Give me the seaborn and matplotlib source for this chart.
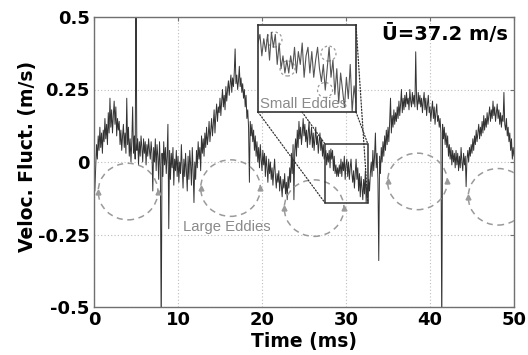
import numpy as np
import pandas as pd
import matplotlib
matplotlib.use("Agg")
import matplotlib.pyplot as plt
import seaborn as sns
from matplotlib.patches import Ellipse, Rectangle, ConnectionPatch

# ---------------- data ----------------
dt = 0.1  # ms between samples
veloc = [
    0.03, -0.10, -0.02, 0.06, 0.01, 0.09, 0.04, 0.12, 0.05, 0.10,   # 0 ms
    0.03, 0.11, 0.07, 0.15, 0.08, 0.13, 0.06, 0.17, 0.10, 0.22,     # 1
    0.12, 0.18, 0.10, 0.16, 0.21, 0.13, 0.19, 0.09, 0.15, 0.11,     # 2
    0.14, 0.06, 0.11, 0.04, 0.09, 0.13, 0.05, 0.10, 0.03, 0.22,     # 3
    0.06, 0.12, 0.02, 0.08, 0.00, 0.07, 0.19, 0.03, 0.09, 0.01,     # 4
    0.58, 0.04, 0.08, -0.01, 0.07, 0.02, 0.09, 0.05, 0.00, 0.08,    # 5
    0.03, 0.07, -0.01, 0.06, 0.02, 0.08, 0.04, 0.01, 0.07, 0.03,    # 6
    -0.10, 0.05, 0.00, 0.08, -0.03, 0.06, 0.02, -0.06, 0.07, -0.02, # 7
    -0.60, 0.03, -0.05, 0.07, -0.01, 0.05, -0.04, 0.02, 0.13, -0.23,# 8
    0.04, -0.06, 0.03, -0.02, 0.05, -0.08, 0.01, -0.03, 0.04, -0.05,# 9
    0.02, -0.07, 0.00, -0.04, 0.06, -0.02, -0.09, 0.01, -0.05, 0.03,# 10
    -0.03, -0.10, 0.02, -0.06, 0.04, -0.01, -0.08, 0.05, -0.03, -0.14, # 11
    0.00, -0.06, 0.04, -0.02, 0.07, 0.01, 0.05, -0.03, 0.09, 0.03,  # 12
    0.08, 0.02, 0.10, 0.05, 0.12, 0.06, 0.09, 0.14, 0.07, 0.11,     # 13
    0.15, 0.09, 0.13, 0.18, 0.10, 0.16, 0.20, 0.14, 0.19, 0.17,     # 14
    0.22, 0.16, 0.21, 0.25, 0.19, 0.23, 0.18, 0.26, 0.21, 0.25,     # 15
    0.28, 0.23, 0.27, 0.30, 0.24, 0.29, 0.26, 0.31, 0.39, 0.27,     # 16
    0.30, 0.25, 0.28, 0.33, 0.26, 0.29, 0.24, 0.27, 0.22, 0.25,     # 17
    0.19, 0.23, 0.15, 0.18, 0.12, -0.07, 0.14, 0.09, 0.13, 0.07,    # 18
    0.11, 0.04, 0.09, 0.02, 0.07, 0.00, 0.05, -0.02, 0.06, 0.01,    # 19
    -0.03, 0.04, -0.01, 0.03, -0.05, 0.02, -0.02, -0.07, 0.01, -0.04, # 20
    0.00, -0.06, -0.02, -0.08, -0.03, 0.01, -0.05, -0.09, -0.04, -0.07, # 21
    -0.03, -0.10, -0.05, -0.08, -0.12, -0.06, -0.09, -0.04, -0.11, -0.07, # 22
    -0.13, -0.05, -0.09, -0.02, -0.07, 0.03, -0.04, 0.06, -0.13, 0.04,  # 23
    0.08, 0.02, 0.11, 0.05, 0.14, 0.08, 0.12, 0.06, 0.10, 0.15,     # 24
    0.09, 0.13, 0.07, 0.11, 0.05, 0.10, 0.14, 0.06, 0.09, 0.12,     # 25
    0.05, 0.10, 0.04, 0.08, 0.12, 0.06, 0.09, 0.03, 0.07, 0.10,     # 26
    0.04, 0.08, 0.02, 0.06, 0.01, 0.02, 0.04, -0.01, 0.03, 0.00,    # 27
    0.04, -0.02, 0.045, 0.01, 0.04, -0.03, 0.02, -0.04, -0.01, -0.05, # 28
    -0.02, -0.05, -0.01, -0.04, 0.01, -0.05, 0.00, -0.03, 0.02, -0.06, # 29
    -0.01, 0.01, -0.05, 0.00, -0.06, -0.02, 0.01, -0.04, -0.07, -0.03, # 30
    -0.09, -0.04, 0.01, -0.06, -0.02, -0.10, -0.04, -0.12, -0.05, -0.09, # 31
    -0.13, -0.06, -0.11, -0.03, -0.14, -0.08, -0.12, -0.06, -0.10, -0.04, # 32
    0.00, -0.05, 0.04, -0.03, 0.02, 0.10, -0.02, 0.03, -0.06, -0.34, # 33
    0.02, -0.04, 0.05, 0.00, 0.07, 0.02, 0.09, 0.04, 0.11, 0.06,    # 34
    0.12, 0.07, 0.14, 0.22, 0.10, 0.16, 0.12, 0.18, 0.13, 0.17,     # 35
    0.14, 0.19, 0.15, 0.21, 0.16, 0.20, 0.25, 0.17, 0.22, 0.18,     # 36
    0.23, 0.19, 0.24, 0.20, 0.22, 0.18, 0.25, 0.21, 0.19, 0.24,     # 37
    0.20, 0.23, 0.19, 0.38, 0.22, 0.18, 0.24, 0.20, 0.23, 0.19,     # 38
    0.22, 0.17, 0.21, 0.24, 0.18, 0.22, 0.16, 0.20, 0.23, 0.17,     # 39
    0.19, 0.14, 0.18, 0.21, 0.15, 0.19, 0.13, 0.17, 0.20, 0.14,     # 40
    0.16, 0.12, 0.15, 0.10, -0.60, 0.13, 0.08, 0.12, 0.06, 0.10,    # 41
    0.05, 0.09, 0.02, 0.06, 0.01, 0.05, -0.01, 0.04, 0.00, 0.03,    # 42
    -0.02, 0.04, -0.01, 0.03, -0.03, 0.02, -0.02, 0.05, 0.00, -0.03,# 43
    0.03, -0.01, 0.02, -0.085, 0.01, 0.04, 0.00, 0.05, 0.02, 0.06,  # 44
    0.03, 0.08, 0.04, 0.09, 0.06, 0.11, 0.07, 0.10, 0.13, 0.08,     # 45
    0.12, 0.09, 0.14, 0.10, 0.16, 0.11, 0.15, 0.12, 0.17, 0.13,     # 46
    0.16, 0.19, 0.14, 0.18, 0.15, 0.21, 0.16, 0.19, 0.14, 0.17,     # 47
    0.20, 0.15, 0.18, 0.13, 0.17, 0.12, 0.16, 0.14, 0.24, 0.13,     # 48
    0.11, 0.15, 0.09, 0.12, 0.07, 0.10, 0.04, 0.08, 0.01, 0.05,     # 49
    0.02,                                                           # 50
]
time_ms = [round(i * dt, 1) for i in range(len(veloc))]

x_ticks = [0, 10, 20, 30, 40, 50]
y_ticks = [-0.5, -0.25, 0, 0.25, 0.5]
y_tick_labels = ["-0.5", "-0.25", "0", "0.25", "0.5"]

# large-eddy circles: centre time (ms), centre value, width (ms), height
eddy_t = [4.05, 16.25, 26.2, 38.5, 48.1]
eddy_v = [-0.102, -0.090, -0.159, -0.067, -0.120]
eddy_w = 7.1
eddy_h = 0.195

# zoom window shown in the inset
zoom_t = (27.5, 32.6)
zoom_v = (-0.141, 0.062)

df = pd.DataFrame({"t": time_ms, "u": veloc})

# ---------------- figure ----------------
sns.set_theme(style="white")
plt.rcParams["font.family"] = ["DejaVu Sans"]
plt.rcParams["text.color"] = "black"
plt.rcParams["axes.labelcolor"] = "black"
plt.rcParams["xtick.labelcolor"] = "black"
plt.rcParams["ytick.labelcolor"] = "black"

W, H = 528, 355
fig = plt.figure(figsize=(W / 100, H / 100), dpi=100)
ax = fig.add_axes([94 / W, 1 - 307 / H, 420 / W, 290 / H])

line_c = "#333333"
eddy_c = "#9a9a9a"

sns.lineplot(data=df, x="t", y="u", ax=ax, color=line_c, lw=0.7,
             estimator=None, sort=False, legend=False)

ax.set_xlim(0, 50)
ax.set_ylim(-0.5, 0.5)
ax.set_xticks(x_ticks)
ax.set_xticklabels([str(v) for v in x_ticks])
ax.set_yticks(y_ticks)
ax.set_yticklabels(y_tick_labels)
ax.grid(True, ls=(0, (1, 2)), color="#bdbdbd", lw=0.8)
for s in ax.spines.values():
    s.set_color("#707070")
    s.set_linewidth(1.0)
ax.tick_params(direction="in", length=3, width=0.8, color="#707070",
               labelcolor="black", top=True, right=True, labelsize=13, pad=3)
for lab in ax.get_xticklabels() + ax.get_yticklabels():
    lab.set_fontweight("bold")

ax.set_xlabel("Time (ms)", fontsize=13.5, fontweight="bold", color="black")
ax.set_ylabel("Veloc. Fluct. (m/s)", fontsize=13.5, fontweight="bold",
              color="black")
ax.xaxis.set_label_coords(0.5, -0.085)
ax.yaxis.set_label_coords(-0.135, 0.52)

# large eddies
for t0, v0 in zip(eddy_t, eddy_v):
    ax.add_patch(Ellipse((t0, v0), eddy_w, eddy_h, fill=False,
                         ec=eddy_c, lw=1.1, ls=(0, (4, 3)), zorder=3))
    ax.plot([t0 - eddy_w / 2, t0 + eddy_w / 2], [v0, v0], ls="none",
            marker="^", ms=3.5, color=eddy_c, zorder=3)
ax.text(15.8, -0.224, "Large Eddies", color="#8a8a8a", fontsize=10.7,
        family="Liberation Sans", ha="center", va="center")

ax.text(0.986, 0.941, "\u016A=37.2 m/s", transform=ax.transAxes,
        fontsize=14, fontweight="bold", ha="right", va="center",
        color="black")

# zoom rectangle
ax.add_patch(Rectangle((zoom_t[0], zoom_v[0]), zoom_t[1] - zoom_t[0],
                       zoom_v[1] - zoom_v[0], fill=False, ec="#333333",
                       lw=1.1, zorder=4))

# inset
axi = fig.add_axes([258 / W, 1 - 112 / H, 98 / W, 87 / H])
sns.lineplot(data=df, x="t", y="u", ax=axi, color="#555555", lw=0.8,
             estimator=None, sort=False, legend=False)
axi.set_xlim(*zoom_t)
axi.set_ylim(*zoom_v)
axi.set_xticks([])
axi.set_yticks([])
axi.set_xlabel("")
axi.set_ylabel("")
axi.set_facecolor("white")
for s in axi.spines.values():
    s.set_color("#333333")
    s.set_linewidth(1.2)
small_centres = [(0.168, 0.833), (0.301, 0.500), (0.719, 0.672), (0.684, 0.253)]
for cx, cy in small_centres:
    axi.add_patch(Ellipse((cx, cy), 15 / 98, 15 / 87, transform=axi.transAxes,
                          fill=False, ec=eddy_c, lw=0.9, ls=(0, (2, 2))))
axi.text(0.46, 0.095, "Small Eddies", transform=axi.transAxes,
         color="#8a8a8a", fontsize=10.7, family="Liberation Sans",
         ha="center", va="center")

# connector lines
conns = [((0.0, 0.0), (zoom_t[0], zoom_v[0])),
         ((0.45, 0.0), (zoom_t[0], zoom_v[1])),
         ((1.0, 1.0), (zoom_t[1], zoom_v[0])),
         ((1.0, 0.0), (zoom_t[1], zoom_v[1]))]
for pa, pb in conns:
    cp = ConnectionPatch(xyA=pa, coordsA=axi.transAxes, xyB=pb,
                         coordsB=ax.transData, color="#333333", lw=0.9,
                         ls=(0, (1, 1.5)))
    fig.add_artist(cp)

fig.savefig("out.png", dpi=100)
